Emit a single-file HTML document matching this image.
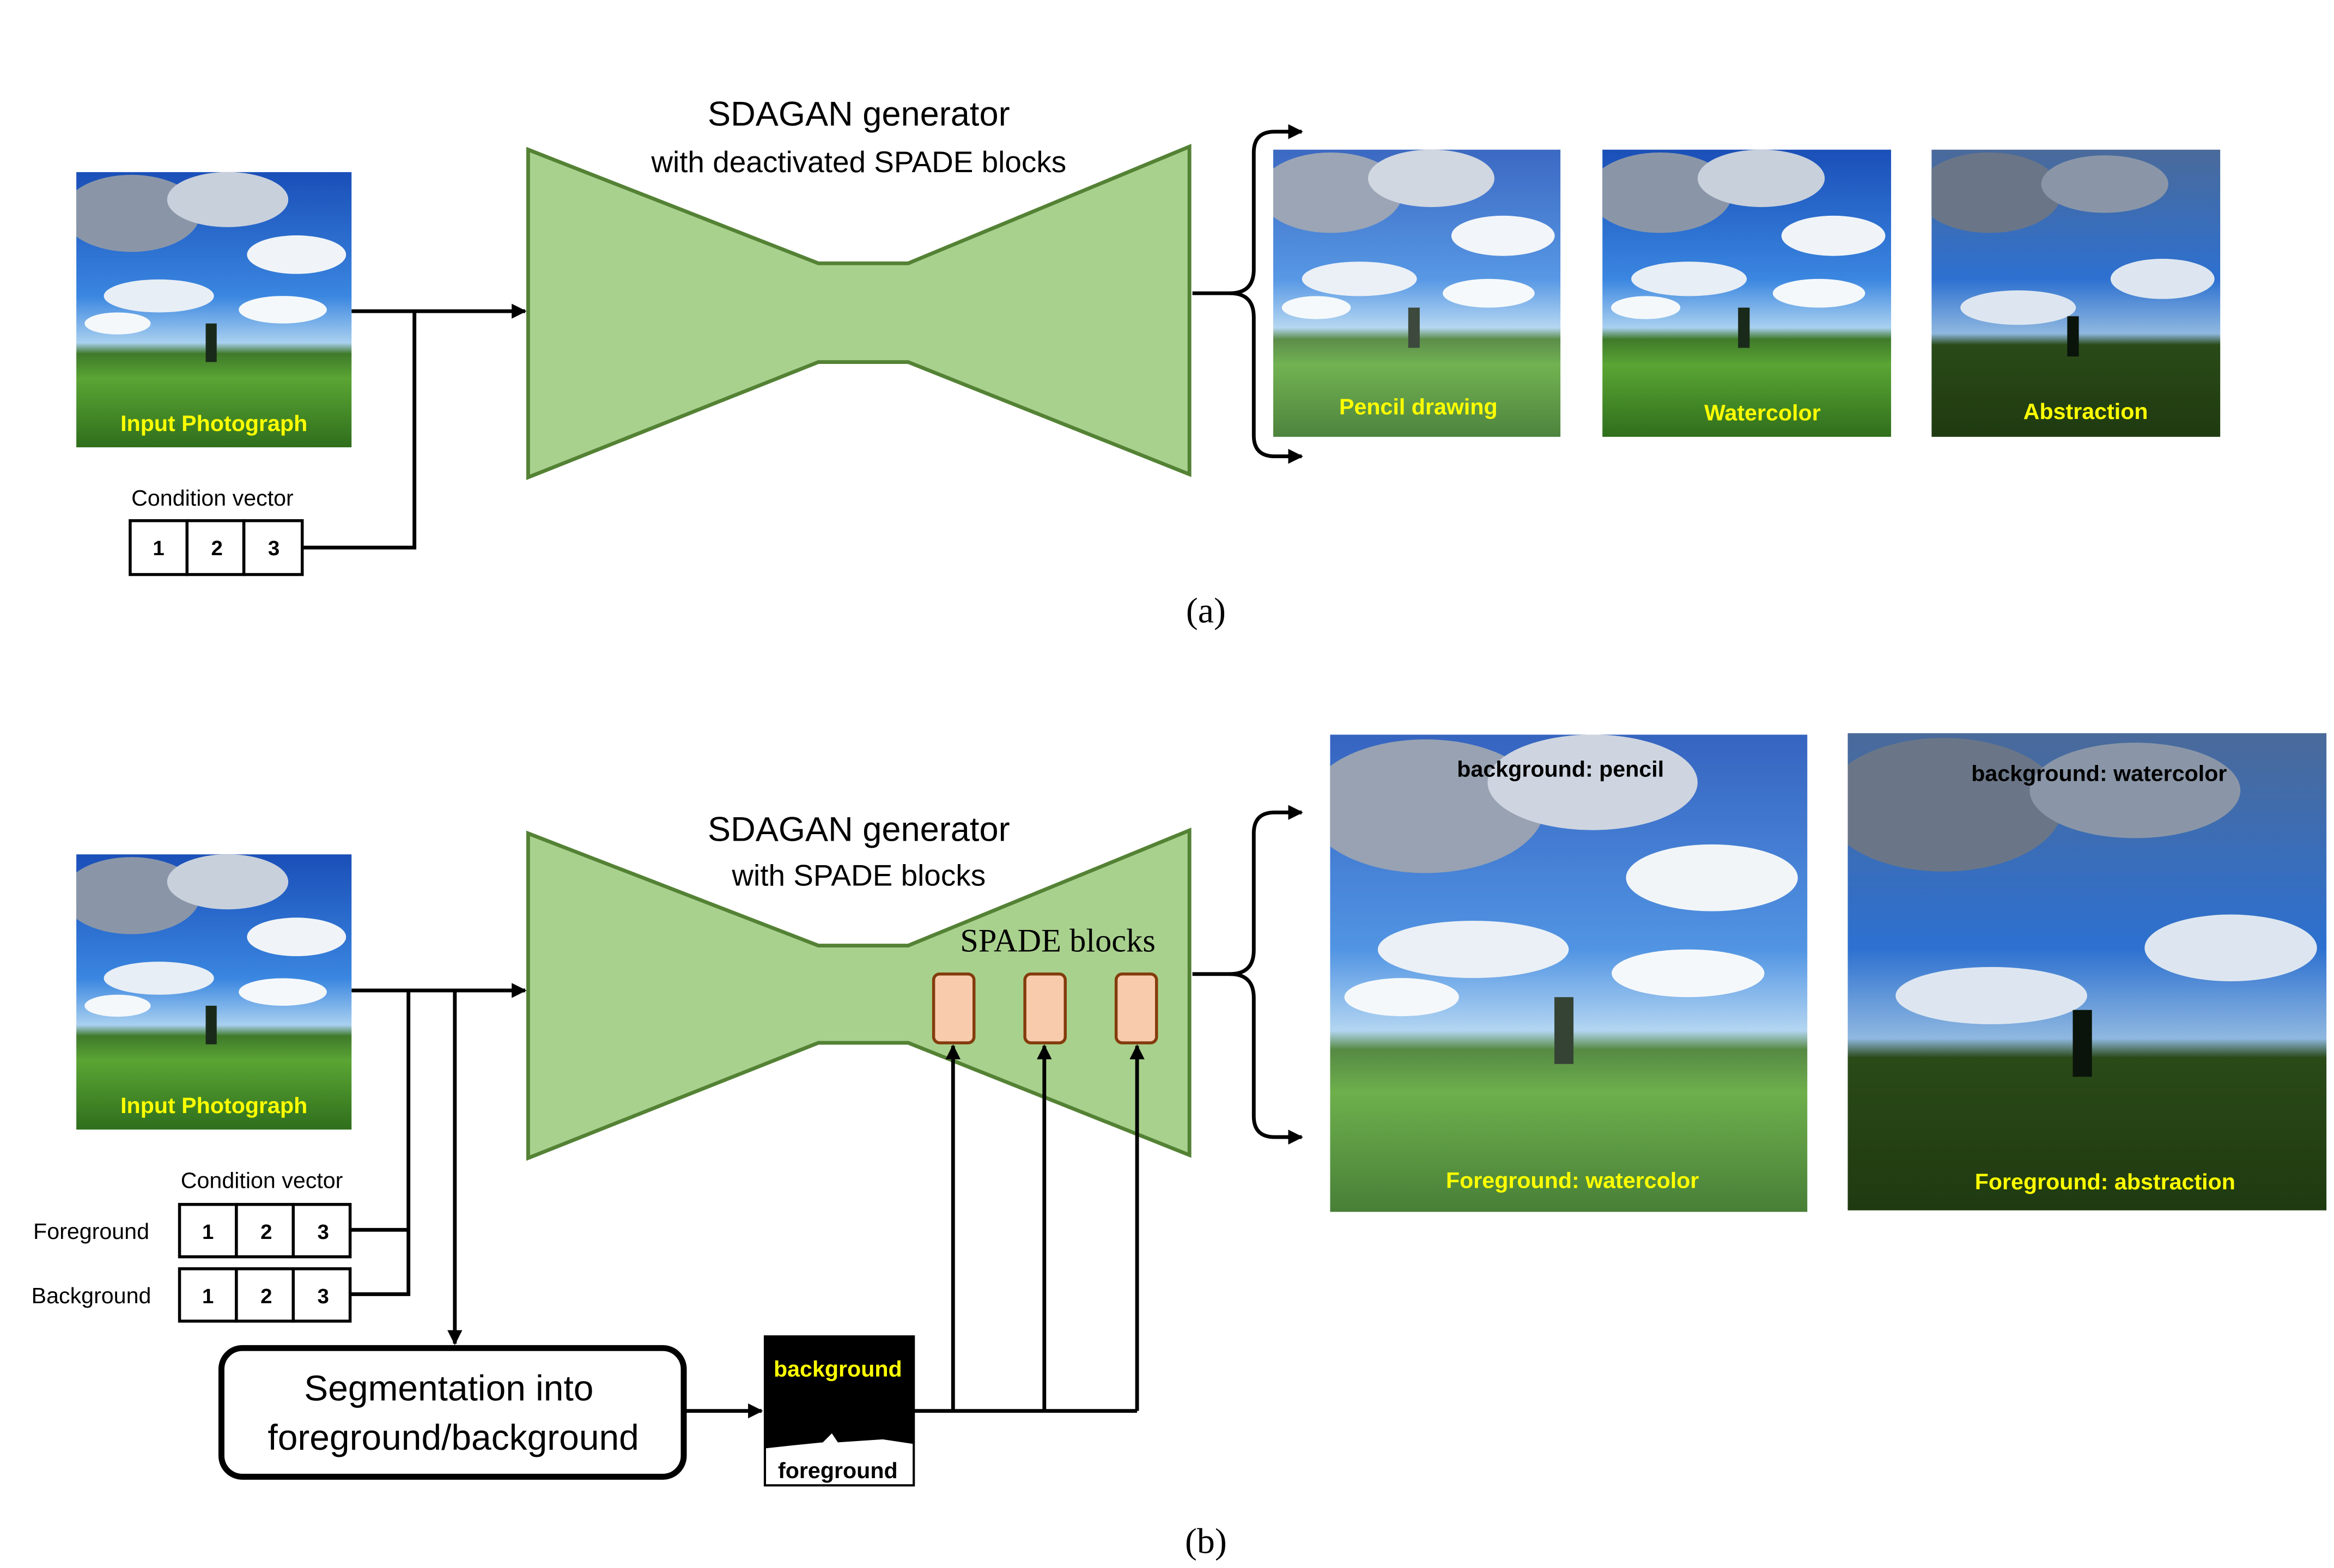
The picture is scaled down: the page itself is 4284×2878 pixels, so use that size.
<!DOCTYPE html>
<html><head><meta charset="utf-8"><style>
html,body{margin:0;padding:0;background:#fff;}
svg{display:block;}
text{font-family:"Liberation Sans","DejaVu Sans",sans-serif;}
</style></head><body>
<svg width="4284" height="2878" viewBox="0 0 1560 1048" preserveAspectRatio="none" xmlns="http://www.w3.org/2000/svg">
<defs>
<marker id="ar" markerWidth="10" markerHeight="10" refX="9" refY="5" orient="auto" markerUnits="userSpaceOnUse"><path d="M0,0 L10,5 L0,10 z" fill="#000"/></marker>
<linearGradient id="sky" x1="0" y1="0" x2="0" y2="1">
<stop offset="0" stop-color="#1a4fb8"/><stop offset="0.45" stop-color="#3a86e0"/><stop offset="0.62" stop-color="#a9d0f0"/><stop offset="0.66" stop-color="#3f7a2a"/><stop offset="0.75" stop-color="#5aa534"/><stop offset="1" stop-color="#2f6e1c"/>
</linearGradient>
<linearGradient id="skyd" x1="0" y1="0" x2="0" y2="1">
<stop offset="0" stop-color="#4a6a9a"/><stop offset="0.45" stop-color="#2d70d0"/><stop offset="0.64" stop-color="#8fb8e0"/><stop offset="0.68" stop-color="#2a4a18"/><stop offset="1" stop-color="#1f3a10"/>
</linearGradient>
<symbol id="photo" viewBox="0 0 100 100" preserveAspectRatio="none">
<rect width="100" height="100" fill="url(#sky)"/>
<ellipse cx="20" cy="15" rx="25" ry="14" fill="#8a96a8"/>
<ellipse cx="55" cy="10" rx="22" ry="10" fill="#c8d0dc"/>
<ellipse cx="80" cy="30" rx="18" ry="7" fill="#f0f4f8"/>
<ellipse cx="30" cy="45" rx="20" ry="6" fill="#e8eef5"/>
<ellipse cx="75" cy="50" rx="16" ry="5" fill="#f4f8fb"/>
<ellipse cx="15" cy="55" rx="12" ry="4" fill="#f4f8fb"/>
<rect x="47" y="55" width="4" height="14" fill="#1a2a1a"/>
</symbol>
<symbol id="photod" viewBox="0 0 100 100" preserveAspectRatio="none">
<rect width="100" height="100" fill="url(#skyd)"/>
<ellipse cx="20" cy="15" rx="25" ry="14" fill="#6a7688"/>
<ellipse cx="60" cy="12" rx="22" ry="10" fill="#8a96a8"/>
<ellipse cx="80" cy="45" rx="18" ry="7" fill="#dde6f0"/>
<ellipse cx="30" cy="55" rx="20" ry="6" fill="#dde6f0"/>
<rect x="47" y="58" width="4" height="14" fill="#0a140a"/>
</symbol>
</defs>

<!-- (a) -->
<use href="#photo" x="51" y="115" width="184" height="184"/>
<text x="143" y="288" font-size="15" font-weight="bold" fill="#ffff00" text-anchor="middle">Input Photograph</text>
<text x="142" y="338" font-size="15" text-anchor="middle">Condition vector</text>
<g stroke="#000" stroke-width="2" fill="#fff"><rect x="87" y="348" width="38" height="36"/><rect x="125" y="348" width="38" height="36"/><rect x="163" y="348" width="39" height="36"/></g>
<g font-size="14" font-weight="bold" text-anchor="middle"><text x="106" y="371">1</text><text x="145" y="371">2</text><text x="183" y="371">3</text></g>
<g stroke="#000" stroke-width="2.5" fill="none">
<path d="M235,208 L351,208" marker-end="url(#ar)"/>
<path d="M202,366 L277,366 L277,208"/>
</g>
<polygon points="353,100 547,176 607,176 795,98 795,317 607,242 547,242 353,319" fill="#a9d18e" stroke="#548235" stroke-width="2.5"/>
<text x="574" y="84" font-size="23" text-anchor="middle">SDAGAN generator</text>
<text x="574" y="115" font-size="20" text-anchor="middle">with deactivated SPADE blocks</text>
<g stroke="#000" stroke-width="2.5" fill="none">
<path d="M797,196 L822,196 Q838,196 838,180 L838,102 Q838,88 852,88 L870,88" marker-end="url(#ar)"/>
<path d="M822,196 Q838,196 838,212 L838,291 Q838,305 852,305 L870,305" marker-end="url(#ar)"/>
</g>
<use href="#photo" x="851" y="100" width="192" height="192"/>
<rect x="851" y="100" width="192" height="192" fill="#fff" opacity="0.15"/>
<use href="#photo" x="1071" y="100" width="193" height="192"/>
<use href="#photod" x="1291" y="100" width="193" height="192"/>
<text x="948" y="277" font-size="15" font-weight="bold" fill="#ffff00" text-anchor="middle">Pencil drawing</text>
<text x="1178" y="281" font-size="15" font-weight="bold" fill="#ffff00" text-anchor="middle">Watercolor</text>
<text x="1394" y="280" font-size="15" font-weight="bold" fill="#ffff00" text-anchor="middle">Abstraction</text>
<text x="806" y="416" font-size="24" text-anchor="middle" style="font-family:'Liberation Serif',serif">(a)</text>

<!-- (b) -->
<use href="#photo" x="51" y="571" width="184" height="184"/>
<text x="143" y="744" font-size="15" font-weight="bold" fill="#ffff00" text-anchor="middle">Input Photograph</text>
<text x="175" y="794" font-size="15" text-anchor="middle">Condition vector</text>
<text x="61" y="828" font-size="15" text-anchor="middle">Foreground</text>
<text x="61" y="871" font-size="15" text-anchor="middle">Background</text>
<g stroke="#000" stroke-width="2" fill="#fff">
<rect x="120" y="805" width="38" height="35"/><rect x="158" y="805" width="38" height="35"/><rect x="196" y="805" width="38" height="35"/>
<rect x="120" y="848" width="38" height="35"/><rect x="158" y="848" width="38" height="35"/><rect x="196" y="848" width="38" height="35"/>
</g>
<g font-size="14" font-weight="bold" text-anchor="middle">
<text x="139" y="828">1</text><text x="178" y="828">2</text><text x="216" y="828">3</text>
<text x="139" y="871">1</text><text x="178" y="871">2</text><text x="216" y="871">3</text>
</g>
<polygon points="353,557 547,632 607,632 795,555 795,772 607,697 547,697 353,774" fill="#a9d18e" stroke="#548235" stroke-width="2.5"/>
<text x="574" y="562" font-size="23" text-anchor="middle">SDAGAN generator</text>
<text x="574" y="592" font-size="20" text-anchor="middle">with SPADE blocks</text>
<text x="707" y="636" font-size="22" text-anchor="middle" style="font-family:'Liberation Serif',serif">SPADE blocks</text>
<g fill="#f8cbad" stroke="#843c0c" stroke-width="2">
<rect x="624" y="651" width="27" height="46" rx="4"/><rect x="685" y="651" width="27" height="46" rx="4"/><rect x="746" y="651" width="27" height="46" rx="4"/>
</g>
<g stroke="#000" stroke-width="2.5" fill="none">
<path d="M235,662 L351,662" marker-end="url(#ar)"/>
<path d="M234,822 L273,822 M234,865 L273,865 L273,662"/>
<path d="M304,662 L304,898" marker-end="url(#ar)"/>
<path d="M457,943 L509,943" marker-end="url(#ar)"/>
<path d="M611,943 L760,943"/>
<path d="M637,943 L637,699" marker-end="url(#ar)"/>
<path d="M698,943 L698,699" marker-end="url(#ar)"/>
<path d="M760,943 L760,699" marker-end="url(#ar)"/>
<path d="M797,651 L822,651 Q838,651 838,635 L838,557 Q838,543 852,543 L870,543" marker-end="url(#ar)"/>
<path d="M822,651 Q838,651 838,667 L838,746 Q838,760 852,760 L870,760" marker-end="url(#ar)"/>
</g>
<rect x="148" y="901" width="309" height="86" rx="14" fill="#fff" stroke="#000" stroke-width="4"/>
<text x="300" y="936" font-size="24" text-anchor="middle">Segmentation into</text>
<text x="303" y="969" font-size="24" text-anchor="middle">foreground/background</text>
<rect x="511" y="893" width="100" height="100" fill="#000" stroke="#000" stroke-width="1"/>
<path d="M512,968 L530,966 L550,964 L556,958 L560,964 L590,962 L610,965 L610,992 L512,992 z" fill="#fff"/>
<text x="560" y="920" font-size="15" font-weight="bold" fill="#ffff00" text-anchor="middle">background</text>
<text x="560" y="988" font-size="15" font-weight="bold" text-anchor="middle">foreground</text>
<use href="#photo" x="889" y="491" width="319" height="319"/>
<rect x="889" y="491" width="319" height="319" fill="#fff" opacity="0.12"/>
<use href="#photod" x="1235" y="490" width="320" height="319"/>
<text x="1043" y="519" font-size="15" font-weight="bold" text-anchor="middle">background: pencil</text>
<text x="1403" y="522" font-size="15" font-weight="bold" text-anchor="middle">background: watercolor</text>
<text x="1051" y="794" font-size="15" font-weight="bold" fill="#ffff00" text-anchor="middle">Foreground: watercolor</text>
<text x="1407" y="795" font-size="15" font-weight="bold" fill="#ffff00" text-anchor="middle">Foreground: abstraction</text>
<text x="806" y="1038" font-size="24" text-anchor="middle" style="font-family:'Liberation Serif',serif">(b)</text>
</svg>
</body></html>
